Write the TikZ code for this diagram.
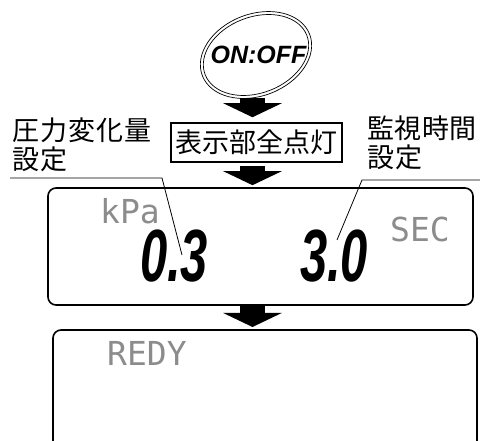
\documentclass[tikz,border=0pt]{standalone}
\usepackage{fontspec}
\setmainfont{Liberation Sans}
\newfontfamily\cjk{Noto Sans CJK JP}
\newfontfamily\lcd{DejaVu Sans Mono}
\usetikzlibrary{arrows.meta}
\begin{document}
\begin{tikzpicture}[x=1pt,y=-1pt,
  blockarrow/.style={line width=25pt,-{Triangle[width=58pt,length=14pt]}},
  leader/.style={line width=0.8pt},
  ring/.style={line width=0.7pt},
  lcdtext/.style={font=\lcd\fontsize{33}{33}\selectfont,text=black!45,inner sep=0pt,anchor=base west},
  digits/.style={font=\bfseries\itshape\fontsize{74}{74}\selectfont,inner sep=0pt},
  cjklabel/.style={font=\cjk\fontsize{27}{28.5}\selectfont,align=left,inner sep=0pt,anchor=north west},
  panel/.style={line width=1.6pt,rounded corners=8pt}]
\useasboundingbox (0,0) rectangle (480,441);

% power button
\node[font=\bfseries\itshape\fontsize{25}{25}\selectfont,inner sep=0pt] (onoff) at (258.5,55) {ON:OFF};
\draw[ring,rotate around={21:(256,55)}] (256,55) ellipse [x radius=57.5,y radius=41];
\draw[ring,rotate around={21:(256,55)}] (256,55) ellipse [x radius=54.5,y radius=38];
\coordinate (btnbase) at (252.5,98);

% all segments lit
\node[draw,line width=1.5pt,minimum width=171pt,minimum height=39pt,inner sep=0pt,
      font=\cjk\fontsize{27}{27}\selectfont] (lamp) at (256.5,142.5) {表示部全点灯};

% labels
\node[cjklabel] (lblL) at (12,118) {圧\kern1pt力\kern1pt変\kern1pt化\kern1pt量\\設\kern1pt定};
\node[cjklabel] (lblR) at (367,116) {監\kern0.5pt視\kern0.5pt時\kern0.5pt間\\設\kern1pt定};

% first display
\node[draw,panel,minimum width=425pt,minimum height=117pt,inner sep=0pt] (disp) at (260.5,246.5) {};
\node[lcdtext] (kpa) at (100,224) {kPa};
\node[lcdtext] (sec) at (390,242) {SEC};
\node[digits] (val1) at (174,256.5) {\scalebox{0.66}[1]{0.3}};
\node[digits] (val2) at (334,256.5) {\scalebox{0.66}[1]{3.0}};

% second display (open at the bottom)
\coordinate (pBL) at (53,445);
\coordinate (pTL) at (53,330);
\coordinate (pTR) at (477,330);
\coordinate (pBR) at (477,445);
\draw[panel] (pBL) -- (pTL) -- (pTR) -- (pBR);
\node[lcdtext] (redy) at (107,365) {REDY};

% leader lines
\coordinate (lA) at (10,178);
\coordinate (lB) at (162,178);
\coordinate (lC) at (182,255);
\draw[leader] (lA) -- (lB) -- (lC);
\coordinate (rA) at (480,180);
\coordinate (rB) at (362,180);
\coordinate (rC) at (337,240);
\draw[leader] (rA) -- (rB) -- (rC);

% block arrows
\draw[blockarrow,shorten >=5pt] (btnbase) -- (btnbase |- lamp.north);
\draw[blockarrow,shorten <=3pt,shorten >=2pt] (btnbase |- lamp.south) -- (btnbase |- disp.north);
\draw[blockarrow,shorten >=3pt] (btnbase |- disp.south) -- (btnbase |- pTL);
\end{tikzpicture}
\end{document}
